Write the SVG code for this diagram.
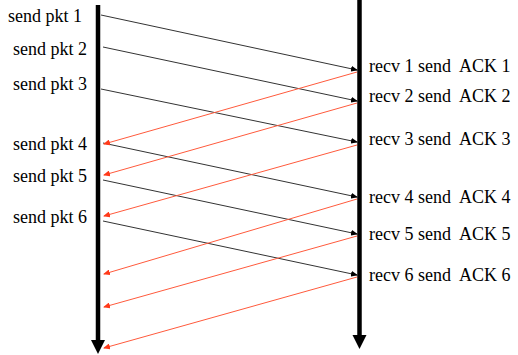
<svg xmlns="http://www.w3.org/2000/svg" width="518" height="355" viewBox="0 0 518 355">
<style>
text{font-family:"Liberation Serif","Times New Roman",serif;font-size:18px;fill:#000;white-space:pre}
.pkt{stroke:#333;stroke-width:1;fill:none}
.ack{stroke:#ff5a3c;stroke-width:1;fill:none}
.life{stroke:#000;stroke-width:4.5;fill:none}
</style>
<defs>
<marker id="ab" markerWidth="7" markerHeight="6" refX="6" refY="3" orient="auto" markerUnits="userSpaceOnUse"><path d="M0,0 L7,3 L0,6 z" fill="#000"/></marker>
<marker id="ar" markerWidth="7" markerHeight="6" refX="6" refY="3" orient="auto" markerUnits="userSpaceOnUse"><path d="M0,0 L7,3 L0,6 z" fill="#ff3a1a"/></marker>
</defs>
<g id="sender">
<line class="life" x1="98" y1="5" x2="98" y2="342"/>
<path d="M91,340 L105,340 L98,354 z" fill="#000"/>
</g>
<g id="receiver">
<line class="life" x1="359.5" y1="0" x2="359.5" y2="337"/>
<path d="M352.5,335 L366.5,335 L359.5,349 z" fill="#000"/>
</g>
<g id="connectors">
<line class="pkt" x1="101" y1="15" x2="357" y2="70" marker-end="url(#ab)"/>
<line class="pkt" x1="103" y1="47" x2="357" y2="101" marker-end="url(#ab)"/>
<line class="pkt" x1="101" y1="89" x2="357" y2="142" marker-end="url(#ab)"/>
<line class="pkt" x1="103" y1="143" x2="357" y2="197" marker-end="url(#ab)"/>
<line class="pkt" x1="103" y1="180" x2="357" y2="234" marker-end="url(#ab)"/>
<line class="pkt" x1="103" y1="221" x2="357" y2="275" marker-end="url(#ab)"/>
<line class="ack" x1="357" y1="72" x2="104" y2="144" marker-end="url(#ar)"/>
<line class="ack" x1="357" y1="103" x2="104" y2="175" marker-end="url(#ar)"/>
<line class="ack" x1="357" y1="145" x2="104" y2="216" marker-end="url(#ar)"/>
<line class="ack" x1="357" y1="199" x2="104" y2="274" marker-end="url(#ar)"/>
<line class="ack" x1="357" y1="236" x2="104" y2="307" marker-end="url(#ar)"/>
<line class="ack" x1="357" y1="277" x2="104" y2="348" marker-end="url(#ar)"/>
</g>
<g id="send1"><text x="8" y="22">send pkt 1</text></g>
<g id="send2"><text x="13" y="55">send pkt 2</text></g>
<g id="send3"><text x="13" y="90">send pkt 3</text></g>
<g id="send4"><text x="13" y="150">send pkt 4</text></g>
<g id="send5"><text x="13" y="182">send pkt 5</text></g>
<g id="send6"><text x="13" y="223">send pkt 6</text></g>
<g id="recv1"><text x="369" y="72">recv 1 send  ACK 1</text></g>
<g id="recv2"><text x="369" y="102">recv 2 send  ACK 2</text></g>
<g id="recv3"><text x="369" y="145">recv 3 send  ACK 3</text></g>
<g id="recv4"><text x="369" y="203">recv 4 send  ACK 4</text></g>
<g id="recv5"><text x="369" y="240">recv 5 send  ACK 5</text></g>
<g id="recv6"><text x="369" y="281">recv 6 send  ACK 6</text></g>
</svg>
